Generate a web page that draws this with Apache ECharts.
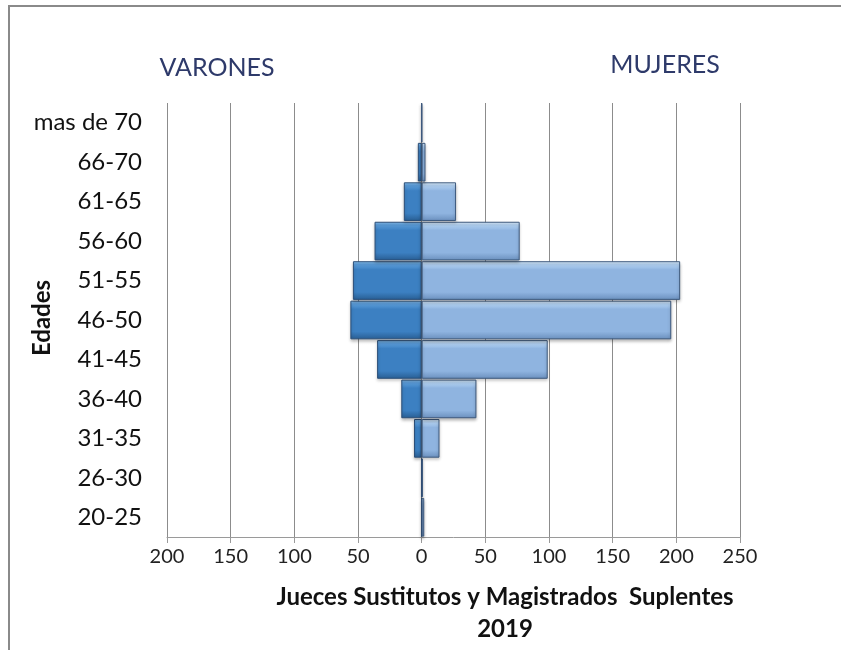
<!DOCTYPE html>
<html>
<head>
<meta charset="utf-8">
<script src="https://cdn.jsdelivr.net/npm/echarts@6/dist/echarts.min.js"></script>
<style>html,body{margin:0;padding:0;background:#fff}#c{width:841px;height:650px}</style>
</head>
<body>
<div id="c"></div>
<script>
var categories = ['20-25','26-30','31-35','36-40','41-45','46-50','51-55','56-60','61-65','66-70','mas de 70'];
var varones = [0, 0, 6, 16, 35, 56, 54, 37, 14, 3, 0];
var mujeres = [2, 1, 14, 43, 99, 196, 203, 77, 27, 3, 0];
var xTicks = [-200, -150, -100, -50, 0, 50, 100, 150, 200, 250];

var FONT = 'Lato, "Open Sans", sans-serif';
var chart = echarts.init(document.getElementById('c'), null, {renderer: 'canvas'});

function grad(top, hi, mid, bot) {
  return new echarts.graphic.LinearGradient(0, 0, 0, 1, [
    {offset: 0, color: hi}, {offset: 0.08, color: top}, {offset: 0.22, color: mid}, {offset: 0.8, color: mid}, {offset: 1, color: bot}
  ]);
}

chart.setOption({
  animation: false,
  backgroundColor: '#fff',
  grid: {left: 167, right: 101, top: 103, bottom: 113},
  xAxis: {
    type: 'value', min: xTicks[0], max: xTicks[xTicks.length - 1], interval: 50,
    axisLine: {show: true, lineStyle: {color: '#9a9a9a', width: 1}},
    axisTick: {show: true, length: 6, lineStyle: {color: '#9a9a9a'}},
    axisLabel: {color: '#222', fontSize: 20, fontFamily: FONT, margin: 10,
      formatter: function (v) { return Math.abs(v); }},
    splitLine: {show: true, lineStyle: {color: '#8c8c8c', width: 1}}
  },
  yAxis: {
    type: 'category', data: categories,
    axisLine: {show: false}, axisTick: {show: false},
    axisLabel: {color: '#111', fontSize: 24, fontFamily: FONT, margin: 25}
  },
  series: [
    {
      name: 'VARONES', type: 'bar', stack: 'p', barCategoryGap: '2%',
      data: varones.map(function (v) { return -v; }),
      itemStyle: {color: grad('#5d9fdc', '#8cc4f2', '#3c80c2', '#285d92'), borderColor: '#2c4f78', borderWidth: 1,
        shadowColor: 'rgba(0,0,0,0.25)', shadowBlur: 3, shadowOffsetY: 2}
    },
    {
      name: 'MUJERES', type: 'bar', stack: 'p', barCategoryGap: '2%',
      data: mujeres,
      itemStyle: {color: grad('#b4d3f3', '#e2f2ff', '#8fb4e0', '#6a8fbd'), borderColor: '#3e5a7e', borderWidth: 1,
        shadowColor: 'rgba(0,0,0,0.25)', shadowBlur: 3, shadowOffsetY: 2}
    }
  ],
  graphic: [
    {type: 'polyline', shape: {points: [[9, 660], [9, 6], [850, 6]]}, style: {fill: 'none', stroke: '#8a8a8a', lineWidth: 2}, silent: true},
    {type: 'text', x: 217, y: 68, style: {text: 'VARONES', fill: '#2e3a6a', fontSize: 25, fontFamily: FONT, align: 'center', verticalAlign: 'middle'}},
    {type: 'text', x: 665, y: 65, style: {text: 'MUJERES', fill: '#2e3a6a', fontSize: 25, fontFamily: FONT, align: 'center', verticalAlign: 'middle'}},
    {type: 'text', x: 42, y: 318, rotation: Math.PI / 2, style: {text: 'Edades', fill: '#111', fontSize: 24, fontWeight: 'bold', fontFamily: FONT, align: 'center', verticalAlign: 'middle'}},
    {type: 'text', x: 505, y: 597, style: {text: 'Jueces Sustitutos y Magistrados  Suplentes', fill: '#111', fontSize: 24, fontWeight: 'bold', fontFamily: FONT, align: 'center', verticalAlign: 'middle'}},
    {type: 'text', x: 505, y: 629, style: {text: '2019', fill: '#111', fontSize: 24, fontWeight: 'bold', fontFamily: FONT, align: 'center', verticalAlign: 'middle'}}
  ]
});
</script>
</body>
</html>
